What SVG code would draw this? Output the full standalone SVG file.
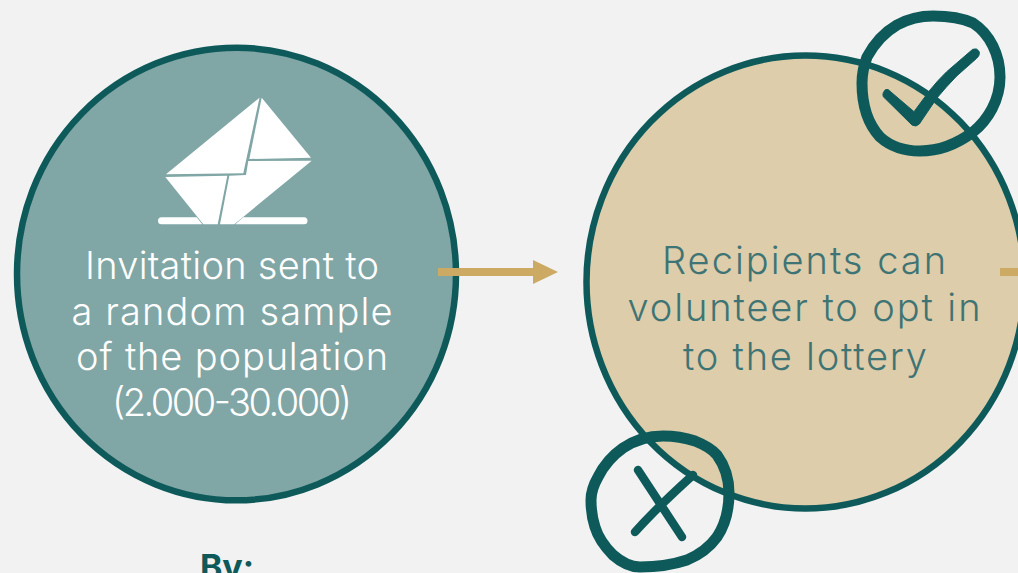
<svg xmlns="http://www.w3.org/2000/svg" width="1018" height="573" viewBox="0 0 1018 573">
<style>
.ring{stroke:#0e5a5a;stroke-width:6.5}
.hand{fill:none;stroke:#0e5a5a;stroke-width:11;stroke-linejoin:round;stroke-linecap:round}
.mark{fill:none;stroke:#0e5a5a;stroke-width:8.5;stroke-linecap:round;stroke-linejoin:round}
.label{font-family:Inter,"Liberation Sans",sans-serif;font-weight:300;font-size:38px;text-anchor:middle}
.white{fill:#fff}
.dark{fill:#3f7474}
.conn{fill:#cdaa64}
</style>
<rect width="1018" height="573" fill="#f2f2f2"/>
<g id="node-invitation">
<ellipse class="ring" cx="236.500" cy="274" rx="219.500" ry="226.300" fill="#81a6a6"/>
<g class="white">
<path d="M259.500 97.700L166 174.300L243.300 173.300Z"/>
<path d="M261.700 97.700L311 157.700L249.300 159Z"/>
<path d="M311.700 160.700L234.300 224.300L220 224.300L229.300 175.700L246 175L248.300 161Z"/>
<path d="M165.300 177L227.300 175.700L217.700 224.300L203.300 224.300Z"/>
<path d="M161.500 217.300H196.700L202.300 224.300H161.500A3.500 3.500 0 0 1 161.500 217.300Z"/>
<path d="M235.300 224.300L243.300 217.300H304A3.500 3.500 0 0 1 304 224.300Z"/>
</g>
<g class="label white">
<text x="232" y="279" textLength="294" lengthAdjust="spacing">Invitation sent to</text>
<text x="232" y="325" textLength="321" lengthAdjust="spacing">a random sample</text>
<text x="232" y="370" textLength="312" lengthAdjust="spacing">of the population</text>
<text x="232" y="416" textLength="240" lengthAdjust="spacing">(2.000-30.000)</text>
</g>
</g>
<g id="node-recipients">
<ellipse class="ring" cx="805.500" cy="282" rx="219" ry="226.500" fill="#ddcdab"/>
<g class="label dark">
<text x="804" y="274" textLength="284" lengthAdjust="spacing">Recipients can</text>
<text x="804" y="321" textLength="353" lengthAdjust="spacing">volunteer to opt in</text>
<text x="805" y="370" textLength="244" lengthAdjust="spacing">to the lottery</text>
</g>
</g>
<g id="connectors">
<path class="conn" d="M438 268H533V260L558 272L533 284V276H438Z"/>
<path class="conn" d="M1000 268H1018V276H1000Z"/>
</g>
<g id="node-check">
<path class="hand" d="M933 16C948 16 962 18 973 23C990 34 1000 55 1000 77C1000 100 988 120 973 132C957 144 938 151 920 151C903 151 890 146 880 137C868 124 862 104 862 83C862 73 864 65 867 57C874 44 885 32 897 25C908 19 920 16 933 16Z"/>
<path fill="#0e5a5a" stroke="#0e5a5a" stroke-width="1" stroke-linejoin="round" d="M883.300 92.700Q885 88.500 888 89.500L914 111.700L930 90Q938 80 946.700 71.700L972.700 49.300Q977 47.500 979.300 51.700Q980 55.500 976.700 58.300L956.700 76Q946 87 936.700 98.300L919.300 124Q916 127.500 912 125L883.300 96.700Q882.500 94.500 883.300 92.700Z"/>
</g>
<g id="node-cross">
<path class="hand" d="M663 436C675 436 686 438 695 441C705 445 712 449 717 455C725 466 729 479 729 493C729 510 725 525 717 537C709 548 699 555 687 560C672 565 655 567 640 567C630 567 621 562 613 555C604 546 598 537 595 527C592 518 591 509 591 500C591 491 594 484 598 477C604 465 613 455 623 448C635 440 649 436 663 436Z"/>
<path class="mark" d="M638 470L682 537M635 532C652 513 672 494 693 475"/>
</g>
<g id="node-by">
<text x="227" y="579" font-family="Inter,'Liberation Sans',sans-serif" font-size="34" font-weight="700" text-anchor="middle" fill="#0e5a5a" textLength="54" lengthAdjust="spacing">By:</text>
</g>
</svg>
